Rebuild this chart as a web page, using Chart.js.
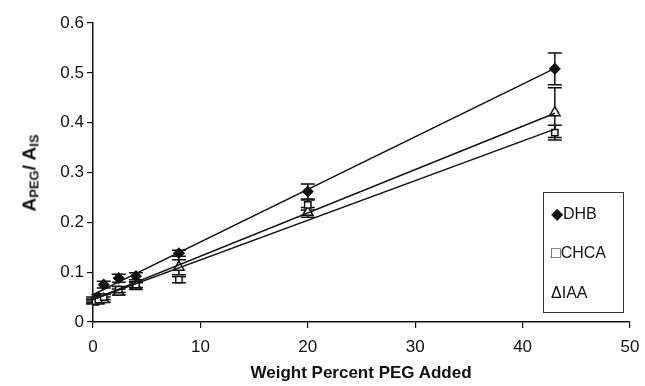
<!DOCTYPE html>
<html>
<head>
<meta charset="utf-8">
<script src="https://cdn.jsdelivr.net/npm/chart.js@4.4.1/dist/chart.umd.min.js"></script>
<style>
  html, body { margin: 0; padding: 0; background: #fff; }
  #wrap { position: relative; width: 645px; height: 386px; font-family: "Liberation Sans", Arial, sans-serif; color: #111; }
  canvas { position: absolute; left: 0; top: 0; }
  #ytitle { position: absolute; left: 30px; top: 173px; transform: translate(-50%, -50%) rotate(-90deg); font-weight: bold; font-size: 19px; white-space: nowrap; }
  #ytitle sub { font-size: 13px; vertical-align: -3px; }
  #xtitle { position: absolute; left: 361px; top: 373px; transform: translate(-50%, -50%); font-weight: bold; font-size: 17px; white-space: nowrap; }
  #legend { position: absolute; left: 543px; top: 192px; width: 81px; height: 121px; border: 1px solid #333; box-sizing: border-box; font-size: 16px; }
  #legend div { position: absolute; left: 7px; white-space: nowrap; transform: translateY(-50%); }
</style>
</head>
<body>
<div id="wrap">
  <canvas id="c" width="645" height="386"></canvas>
  <div id="ytitle">A<sub>PEG</sub>/ A<sub>IS</sub></div>
  <div id="xtitle">Weight Percent PEG Added</div>
  <div id="legend">
    <div style="top:20px">◆DHB</div>
    <div style="top:60px">□CHCA</div>
    <div style="top:100px">ΔIAA</div>
  </div>
</div>
<script>
// Data
const pegPercent = [0, 0.5, 1, 2.4, 4, 8, 20, 43];
const dhbValues  = [0.045, 0.05, 0.075, 0.088, 0.092, 0.138, 0.262, 0.508];
const dhbErrors  = [0.005, 0.005, 0.007, 0.008, 0.007, 0.006, 0.015, 0.032];
const chcaValues = [0.042, 0.045, 0.05, 0.065, 0.075, 0.085, 0.235, 0.38];
const chcaErrors = [0.004, 0.004, 0.005, 0.006, 0.006, 0.006, 0.01, 0.015];
const iaaValues  = [0.04, 0.042, 0.045, 0.06, 0.072, 0.11, 0.22, 0.42];
const iaaErrors  = [0.004, 0.004, 0.005, 0.006, 0.007, 0.015, 0.01, 0.05];
// Trend-line end points (x = 0 and x = 43)
const trendX    = [0, 43];
const dhbTrend  = [0.055, 0.509];
const chcaTrend = [0.045, 0.387];
const iaaTrend  = [0.045, 0.419];
const xTicks = [0, 10, 20, 30, 40, 50];
const yTicks = [0, 0.1, 0.2, 0.3, 0.4, 0.5, 0.6];

const pts = (xs, ys) => xs.map((x, i) => ({ x: x, y: ys[i] }));

const errorBars = {
  id: 'errorBars',
  beforeDatasetsDraw(chart) {
    const ctx = chart.ctx, xs = chart.scales.x, ys = chart.scales.y;
    ctx.save();
    ctx.strokeStyle = '#111';
    ctx.lineWidth = 1.5;
    chart.data.datasets.forEach(ds => {
      if (!ds.errors) return;
      ds.data.forEach((p, i) => {
        const e = ds.errors[i];
        const px = xs.getPixelForValue(p.x);
        const top = ys.getPixelForValue(p.y + e);
        const bot = ys.getPixelForValue(p.y - e);
        ctx.beginPath();
        ctx.moveTo(px, top); ctx.lineTo(px, bot);
        ctx.moveTo(px - 7, top); ctx.lineTo(px + 7, top);
        ctx.moveTo(px - 7, bot); ctx.lineTo(px + 7, bot);
        ctx.stroke();
      });
    });
    ctx.restore();
  }
};

const markerBase = { showLine: false, borderColor: '#111', borderWidth: 1.5 };
const lineBase = { showLine: true, pointRadius: 0, borderColor: '#111', borderWidth: 1.5, fill: false };
const tickFont = { family: '"Liberation Sans", Arial, sans-serif', size: 17 };

new Chart(document.getElementById('c'), {
  type: 'scatter',
  data: {
    datasets: [
      Object.assign({ label: 'DHB trend', data: pts(trendX, dhbTrend) }, lineBase),
      Object.assign({ label: 'CHCA trend', data: pts(trendX, chcaTrend) }, lineBase),
      Object.assign({ label: 'IAA trend', data: pts(trendX, iaaTrend) }, lineBase),
      Object.assign({ label: 'CHCA', data: pts(pegPercent, chcaValues), errors: chcaErrors,
        pointStyle: 'rect', pointRadius: 4.5, backgroundColor: '#fff' }, markerBase),
      Object.assign({ label: 'IAA', data: pts(pegPercent, iaaValues), errors: iaaErrors,
        pointStyle: 'triangle', pointRadius: 6, backgroundColor: '#fff' }, markerBase),
      Object.assign({ label: 'DHB', data: pts(pegPercent, dhbValues), errors: dhbErrors,
        pointStyle: 'rectRot', pointRadius: 5, backgroundColor: '#111' }, markerBase)
    ]
  },
  options: {
    responsive: false,
    animation: false,
    devicePixelRatio: 1,
    layout: { padding: { left: 0, right: 15, top: 23, bottom: 0 } },
    plugins: { legend: { display: false }, tooltip: { enabled: false } },
    scales: {
      x: {
        type: 'linear', min: 0, max: 50,
        afterBuildTicks: s => { s.ticks = xTicks.map(v => ({ value: v })); },
        afterFit: s => { s.height = 64; s.paddingRight = 0; },
        grid: { display: true, drawOnChartArea: false, drawTicks: true, tickLength: 6, color: '#111', lineWidth: 1.2 },
        border: { display: true, color: '#111', width: 1.5 },
        ticks: { color: '#111', font: tickFont, padding: 9, maxRotation: 0,
          callback: v => String(v) }
      },
      y: {
        type: 'linear', min: 0, max: 0.6,
        afterBuildTicks: s => { s.ticks = yTicks.map(v => ({ value: v })); },
        afterFit: s => { s.width = 93; },
        grid: { display: true, drawOnChartArea: false, drawTicks: true, tickLength: 6, color: '#111', lineWidth: 1.2 },
        border: { display: true, color: '#111', width: 1.5 },
        ticks: { color: '#111', font: tickFont, padding: 3,
          callback: v => v === 0 ? '0' : v.toFixed(1) }
      }
    }
  },
  plugins: [errorBars]
});
</script>
</body>
</html>
